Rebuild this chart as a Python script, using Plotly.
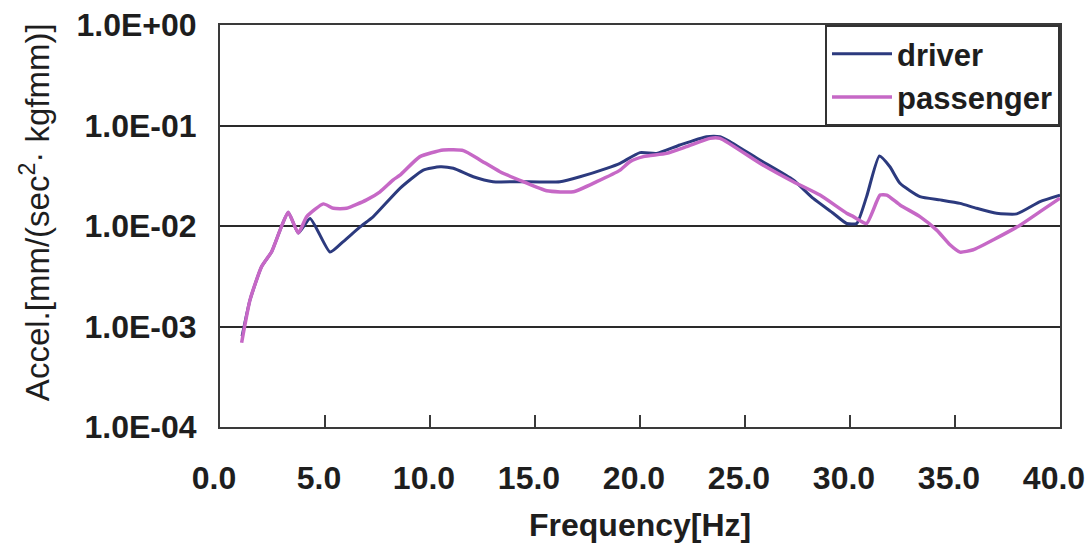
import plotly.graph_objects as go

# ---- data ----
driver_f = [1.05, 1.43, 1.98, 2.46, 2.86, 3.25, 3.73, 4.29, 5.24, 5.87, 6.67, 7.3, 8.57, 9.68,
            10.48, 11.11, 12.06, 13.0, 14.29, 16.19, 17.14, 18.41, 19.05, 20.0, 20.79, 21.9,
            23.17, 23.81, 24.29, 25.71, 27.3, 28.25, 29.2, 29.84, 30.32, 30.79, 31.4, 31.9,
            32.38, 33.33, 34.29, 35.24, 36.03, 36.98, 37.94, 39.05, 40.0]
driver_v = [8.0e-4, 1.84e-3, 3.94e-3, 5.55e-3, 9.1e-3, 0.0137, 0.0085, 0.0119, 0.0055, 0.0070,
            0.0098, 0.0124, 0.0237, 0.036, 0.0389, 0.0375, 0.0309, 0.0276, 0.0276, 0.0276,
            0.0309, 0.0375, 0.0421, 0.0537, 0.0528, 0.064, 0.0774, 0.0774, 0.069, 0.0454,
            0.0287, 0.0188, 0.0134, 0.0106, 0.0106, 0.0196, 0.0497, 0.0389, 0.0266, 0.0196,
            0.0182, 0.0168, 0.015, 0.0134, 0.0132, 0.0175, 0.0203]

passenger_f = [1.03, 1.43, 1.98, 2.46, 2.86, 3.25, 3.73, 4.13, 4.92, 5.4, 6.03, 6.98, 7.62,
               8.25, 8.57, 9.52, 10.63, 11.59, 12.38, 13.33, 14.44, 15.56, 16.83, 17.94,
               19.05, 19.52, 20.16, 21.27, 22.22, 23.33, 23.81, 25.71, 27.3, 28.57, 29.84,
               30.16, 30.79, 31.43, 31.75, 32.38, 33.33, 34.13, 34.76, 35.24, 35.87, 36.83,
               38.1, 39.05, 40.0]
passenger_v = [6.9e-4, 1.84e-3, 3.94e-3, 5.55e-3, 9.1e-3, 0.0137, 0.0085, 0.0124, 0.0166,
               0.015, 0.015, 0.0182, 0.0219, 0.0288, 0.032, 0.049, 0.057, 0.0562, 0.0454,
               0.0347, 0.0276, 0.0224, 0.0219, 0.0276, 0.036, 0.0437, 0.049, 0.0528, 0.0615,
               0.0745, 0.0745, 0.0421, 0.0276, 0.0203, 0.0134, 0.0124, 0.0106, 0.0203, 0.0203,
               0.0162, 0.0124, 0.0091, 0.0065, 0.0055, 0.0058, 0.0073, 0.0102, 0.0139, 0.0189]

y_tickvals = [1e-4, 1e-3, 1e-2, 1e-1, 1e0]
y_ticktext = ["1.0E-04", "1.0E-03", "1.0E-02", "1.0E-01", "1.0E+00"]
x_tickvals = [0, 5, 10, 15, 20, 25, 30, 35, 40]
x_ticktext = ["0.0", "5.0", "10.0", "15.0", "20.0", "25.0", "30.0", "35.0", "40.0"]

FONT = "Liberation Sans, Arial, sans-serif"
TXT = "#1e1e1e"

fig = go.Figure()
fig.add_trace(go.Scatter(x=driver_f, y=driver_v, mode="lines", name="driver",
                         line=dict(color="#2c3a7e", width=3, shape="spline", smoothing=0.5)))
fig.add_trace(go.Scatter(x=passenger_f, y=passenger_v, mode="lines", name="passenger",
                         line=dict(color="#c668c6", width=3.5, shape="spline", smoothing=0.5)))

fig.update_layout(
    width=1089, height=551,
    margin=dict(l=220, r=29, t=25, b=124),
    paper_bgcolor="white", plot_bgcolor="white",
    font=dict(family=FONT, color=TXT),
    showlegend=True,
    legend=dict(x=1, y=1, xanchor="right", yanchor="top",
                bgcolor="white", bordercolor="#333333", borderwidth=2,
                font=dict(family=FONT, size=31, color=TXT, weight="bold"),
                itemwidth=60, tracegroupgap=0),
)
fig.update_xaxes(range=[0, 40], tickvals=x_tickvals, ticktext=x_ticktext,
                 showgrid=False, zeroline=False, automargin=False,
                 showline=True, mirror=True, linecolor="#3a3a3a", linewidth=2,
                 ticks="inside", ticklen=12, tickwidth=2, tickcolor="#3a3a3a",
                 tickfont=dict(family=FONT, size=32, color=TXT, weight="bold"),
                 ticklabelstandoff=22, ticklabelshift=-6, ticklabeloverflow="allow")
fig.update_yaxes(type="log", range=[-4, 0], tickvals=y_tickvals, ticktext=y_ticktext,
                 showgrid=True, gridcolor="#2a2a2a", gridwidth=2, zeroline=False,
                 automargin=False,
                 showline=True, mirror=True, linecolor="#3a3a3a", linewidth=2,
                 ticks="", ticklabelstandoff=15, ticklabeloverflow="allow",
                 tickfont=dict(family=FONT, size=32, color=TXT, weight="bold"))

fig.add_annotation(text="Accel.[mm/(sec<sup>2</sup>· kgfmm)]", xref="paper", yref="paper",
                   x=-0.220, y=0.535, xanchor="center", yanchor="middle", textangle=-90,
                   showarrow=False, font=dict(family=FONT, size=33, color=TXT))
fig.add_annotation(text="Frequency[Hz]", xref="paper", yref="paper",
                   x=0.5, y=-0.243, xanchor="center", yanchor="middle",
                   showarrow=False, font=dict(family=FONT, size=32, color=TXT, weight="bold"))

fig.write_html("out.html")
